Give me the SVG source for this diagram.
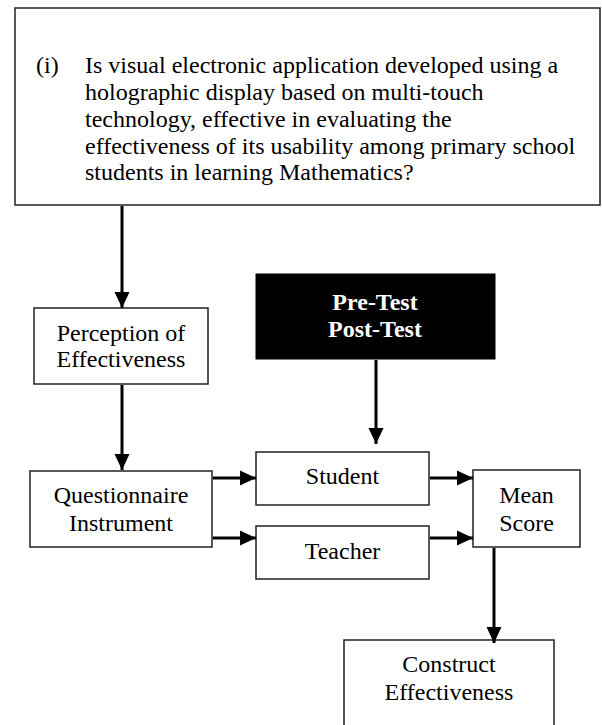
<svg xmlns="http://www.w3.org/2000/svg" width="602" height="725" viewBox="0 0 602 725">
<style>
.box{fill:#fff;stroke:#222;stroke-width:1.5}
.dark{fill:#000;stroke:#000;stroke-width:1}
.t{font-family:"Liberation Serif","Times New Roman",serif;font-size:24px;fill:#000}
.c{text-anchor:middle}
.w{fill:#fff;font-weight:bold}
.edge{stroke:#000;stroke-width:3;fill:none;marker-end:url(#ah)}
</style>
<defs>
<marker id="ah" markerUnits="userSpaceOnUse" markerWidth="16" markerHeight="16" refX="16" refY="8" orient="auto" viewBox="0 0 16 16">
<path d="M0,0.5 L16,8 L0,15.5 Z" fill="#000"/>
</marker>
</defs>
<rect width="602" height="725" fill="#fff"/>
<g id="question">
<rect class="box" x="15" y="8" width="585" height="197"/>
<text class="t" x="36" y="73">(i)</text>
<text class="t" x="85" y="73">Is visual electronic application developed using a</text>
<text class="t" x="85" y="100">holographic display based on multi-touch</text>
<text class="t" x="85" y="127">technology, effective in evaluating the</text>
<text class="t" x="85" y="154">effectiveness of its usability among primary school</text>
<text class="t" x="85" y="180">students in learning Mathematics?</text>
</g>
<g id="perception">
<rect class="box" x="34" y="308" width="174" height="76"/>
<text class="t c" x="121" y="341">Perception of</text>
<text class="t c" x="121" y="367">Effectiveness</text>
</g>
<g id="tests">
<rect class="dark" x="256" y="274" width="239" height="85"/>
<text class="t c w" x="375" y="310">Pre-Test</text>
<text class="t c w" x="375" y="337">Post-Test</text>
</g>
<g id="questionnaire">
<rect class="box" x="30" y="471" width="182" height="76"/>
<text class="t c" x="121" y="503">Questionnaire</text>
<text class="t c" x="121" y="531">Instrument</text>
</g>
<g id="student">
<rect class="box" x="256" y="452" width="173" height="53"/>
<text class="t c" x="342.5" y="484">Student</text>
</g>
<g id="teacher">
<rect class="box" x="256" y="526" width="173" height="53"/>
<text class="t c" x="342.5" y="559">Teacher</text>
</g>
<g id="mean">
<rect class="box" x="473" y="470" width="107" height="77"/>
<text class="t c" x="526.5" y="503">Mean</text>
<text class="t c" x="526.5" y="531">Score</text>
</g>
<g id="construct">
<rect class="box" x="344" y="640" width="210" height="100"/>
<text class="t c" x="449" y="672">Construct</text>
<text class="t c" x="449" y="700">Effectiveness</text>
</g>
<g id="connectors">
<path class="edge" d="M122,206 V308"/>
<path class="edge" d="M122,385 V470"/>
<path class="edge" d="M376,360 V444"/>
<path class="edge" d="M213,478 H256"/>
<path class="edge" d="M213,538 H256"/>
<path class="edge" d="M430,478 H473"/>
<path class="edge" d="M430,538 H473"/>
<path class="edge" d="M494,548 V643"/>
</g>
</svg>
